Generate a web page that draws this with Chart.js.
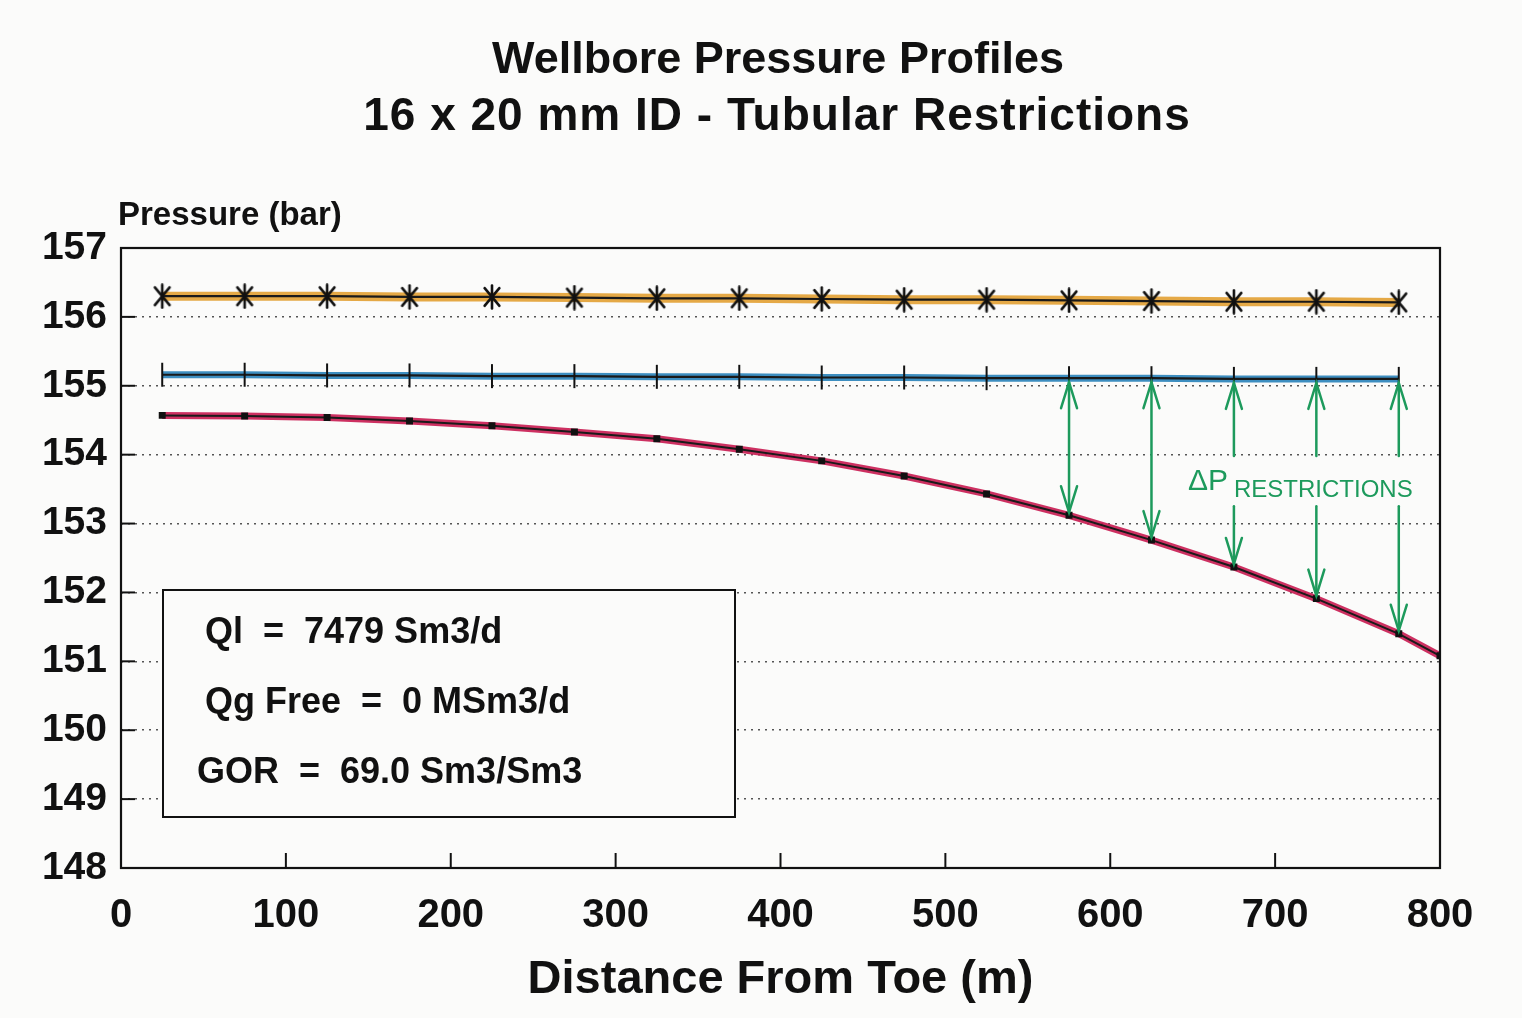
<!DOCTYPE html>
<html>
<head>
<meta charset="utf-8">
<title>Wellbore Pressure Profiles</title>
<script src="https://cdn.jsdelivr.net/npm/chart.js@4.4.1/dist/chart.umd.min.js"></script>
<style>
  html, body { margin:0; padding:0; background:#fbfbfa; }
  #wrap { width:1522px; height:1018px; position:relative; }
</style>
</head>
<body>
<div id="wrap"><canvas id="chart"></canvas></div>
<script>
// ---- data ----
const distance = [25, 75, 125, 175, 225, 275, 325, 375, 425, 475, 525, 575, 625, 675, 725, 775];
const distanceLow = [25, 75, 125, 175, 225, 275, 325, 375, 425, 475, 525, 575, 625, 675, 725, 775, 800];
const pressureTop = [156.30, 156.30, 156.30, 156.29, 156.29, 156.28, 156.27, 156.27, 156.26, 156.25, 156.25, 156.24, 156.23, 156.22, 156.22, 156.21];
const pressureMid = [155.16, 155.16, 155.15, 155.15, 155.14, 155.14, 155.13, 155.13, 155.12, 155.12, 155.11, 155.11, 155.11, 155.10, 155.10, 155.10];
const pressureLow = [154.57, 154.56, 154.54, 154.49, 154.42, 154.33, 154.23, 154.08, 153.91, 153.69, 153.43, 153.12, 152.76, 152.37, 151.91, 151.40, 151.08];
const arrowIdx = [11, 12, 13, 14, 15];   // dP restriction arrows at 575..775 m
const yTicks = [148, 149, 150, 151, 152, 153, 154, 155, 156, 157];
const xTicks = [0, 100, 200, 300, 400, 500, 600, 700, 800];
const infoLines = ['Ql  =  7479 Sm3/d', 'Qg Free  =  0 MSm3/d', 'GOR  =  69.0 Sm3/Sm3'];

const FONT = "'Liberation Sans', Arial, sans-serif";
const pts = (xs, ys) => xs.map((x, i) => ({x, y: ys[i]}));

// asterisk marker like the plotter's (vertical + X, the line gives the horizontal)
function asterisk(size){
  const c = document.createElement('canvas');
  c.width = c.height = size;
  const g = c.getContext('2d');
  const r = size / 2 - 1.5;
  g.strokeStyle = '#111';
  g.lineWidth = 2.6;
  g.lineCap = 'round';
  [90, 50, 130].forEach(deg=>{
    const a = deg * Math.PI / 180;
    g.beginPath();
    g.moveTo(size/2 - r*Math.cos(a), size/2 - r*Math.sin(a));
    g.lineTo(size/2 + r*Math.cos(a), size/2 + r*Math.sin(a));
    g.stroke();
  });
  return c;
}
const starMark = asterisk(26);

// ---- extra drawing: frame, inner ticks, titles, info box, arrows ----
const decor = {
  id: 'decor',
  afterDatasetsDraw(chart){
    const {ctx, chartArea:a, scales:{x, y}} = chart;
    ctx.save();
    // plot frame
    ctx.strokeStyle = '#111';
    ctx.lineWidth = 2.2;
    ctx.strokeRect(a.left, a.top, a.right - a.left, a.bottom - a.top);
    // inner tick marks
    ctx.lineWidth = 2;
    yTicks.slice(1, -1).forEach(v=>{
      const py = y.getPixelForValue(v);
      ctx.beginPath(); ctx.moveTo(a.left, py); ctx.lineTo(a.left + 14, py); ctx.stroke();
    });
    xTicks.slice(1, -1).forEach(v=>{
      const px = x.getPixelForValue(v);
      ctx.beginPath(); ctx.moveTo(px, a.bottom); ctx.lineTo(px, a.bottom - 15); ctx.stroke();
    });

    // info box
    const bx = 163, by = 590, bw = 572, bh = 227;
    ctx.fillStyle = '#fbfbfa';
    ctx.fillRect(bx, by, bw, bh);
    ctx.strokeStyle = '#111';
    ctx.lineWidth = 2;
    ctx.strokeRect(bx, by, bw, bh);
    ctx.fillStyle = '#111';
    ctx.font = 'bold 36px ' + FONT;
    ctx.textAlign = 'left';
    ctx.textBaseline = 'alphabetic';
    ctx.fillText(infoLines[0], 205, 643);
    ctx.fillText(infoLines[1], 205, 713);
    ctx.fillText(infoLines[2], 197, 783);

    // green dP arrows between middle and lower profile
    const green = '#1d9a5c';
    ctx.strokeStyle = green;
    ctx.lineWidth = 2.5;
    ctx.lineCap = 'round';
    const head = (px, py, dir)=>{
      ctx.beginPath();
      ctx.moveTo(px - 8, py - dir * 26);
      ctx.lineTo(px, py);
      ctx.lineTo(px + 8, py - dir * 26);
      ctx.stroke();
    };
    arrowIdx.forEach((i, k)=>{
      const px = x.getPixelForValue(distance[i]);
      const top = y.getPixelForValue(pressureMid[i]) + 4;
      const bot = y.getPixelForValue(pressureLow[i]) - 3;
      if(k < 2){
        ctx.beginPath(); ctx.moveTo(px, top); ctx.lineTo(px, bot); ctx.stroke();
      } else {
        const g1 = y.getPixelForValue(153.98), g2 = y.getPixelForValue(153.25);
        ctx.beginPath(); ctx.moveTo(px, top); ctx.lineTo(px, g1); ctx.stroke();
        ctx.beginPath(); ctx.moveTo(px, g2); ctx.lineTo(px, bot); ctx.stroke();
      }
      head(px, top, -1);
      head(px, bot, 1);
    });
    ctx.fillStyle = green;
    ctx.font = '30px ' + FONT;
    ctx.fillText('\u0394P', 1188, 490);
    ctx.font = '24px ' + FONT;
    ctx.fillText('RESTRICTIONS', 1234, 497);

    // titles
    ctx.fillStyle = '#111';
    ctx.textAlign = 'center';
    ctx.font = 'bold 45px ' + FONT;
    ctx.fillText('Wellbore Pressure Profiles', 778, 73);
    ctx.font = 'bold 46px ' + FONT;
    ctx.letterSpacing = '1px';
    ctx.fillText('16 x 20 mm ID - Tubular Restrictions', 777, 130);
    ctx.letterSpacing = '0px';
    ctx.textAlign = 'left';
    ctx.font = 'bold 33px ' + FONT;
    ctx.fillText('Pressure (bar)', 118, 225);
    ctx.restore();
  }
};

new Chart(document.getElementById('chart'), {
  type: 'line',
  data: {
    datasets: [
      { data: pts(distance, pressureTop), borderColor:'#1a1a1a', borderWidth:2.2,
        pointStyle:starMark, pointRadius:13, order:0 },
      { data: pts(distance, pressureMid), borderColor:'#1a1a1a', borderWidth:2.2,
        pointStyle:'line', rotation:90, pointRadius:12, pointBorderColor:'#111', pointBorderWidth:2, order:0 },
      { data: pts(distanceLow, pressureLow), borderColor:'#1a1a1a', borderWidth:2,
        pointStyle:'rect', pointRadius:3.5, pointBackgroundColor:'#111', pointBorderColor:'#111', order:0 },
      // hand-coloured highlights under the black lines
      { data: pts(distance, pressureTop), borderColor:'rgba(226,160,50,0.9)', borderWidth:9, pointRadius:0, order:1 },
      { data: pts(distance, pressureMid), borderColor:'rgba(40,130,185,0.9)', borderWidth:7, pointRadius:0, order:1 },
      { data: pts(distanceLow, pressureLow), borderColor:'rgba(200,25,80,0.9)', borderWidth:7, pointRadius:0, order:1 }
    ]
  },
  options: {
    responsive: true,
    maintainAspectRatio: false,
    animation: false,
    layout: { padding: { left:0, right:82, top:248, bottom:0 } },
    plugins: { legend:{display:false}, tooltip:{enabled:false}, title:{display:false} },
    scales: {
      x: {
        type:'linear', min:0, max:800,
        afterBuildTicks: s => { s.ticks = xTicks.map(v=>({value:v})); },
        afterFit: s => { s.height = 150; },
        grid: { display:false, drawTicks:false },
        border: { display:false },
        ticks: { color:'#111', padding:24, maxRotation:0, font:{family:FONT, size:40, weight:'bold'} },
        title: { display:true, text:'Distance From Toe (m)', color:'#111',
                 font:{family:FONT, size:47, weight:'bold'}, padding:{top:0, bottom:10} }
      },
      y: {
        min:148, max:157,
        afterBuildTicks: s => { s.ticks = yTicks.map(v=>({value:v})); },
        afterFit: s => { s.width = 121; },
        grid: { drawTicks:false, lineWidth:1.6,
                color: c => (c.tick && (c.tick.value === 148 || c.tick.value === 157)) ? 'rgba(0,0,0,0)' : '#555' },
        border: { display:false, dash:[2,5] },
        ticks: { color:'#111', padding:14, font:{family:FONT, size:39, weight:'bold'} }
      }
    }
  },
  plugins: [decor]
});
</script>
</body>
</html>
